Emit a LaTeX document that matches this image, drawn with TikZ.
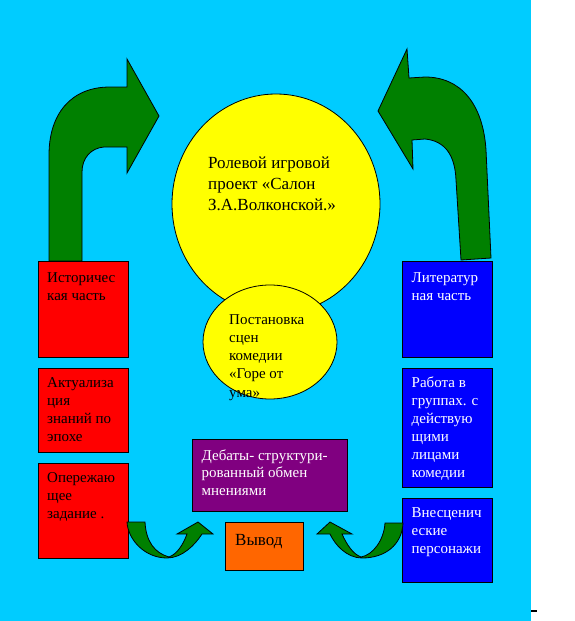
\documentclass[tikz,border=0pt]{standalone}
\usepackage{fontspec}
\setmainfont{Liberation Serif}
\definecolor{bgcyan}{RGB}{0,204,255}
\definecolor{boxred}{RGB}{255,0,0}
\definecolor{boxblue}{RGB}{0,0,255}
\definecolor{boxpurple}{RGB}{128,0,128}
\definecolor{boxorange}{RGB}{255,102,0}
\definecolor{circyellow}{RGB}{255,255,0}
\definecolor{arrowgreen}{RGB}{0,128,0}
\tikzset{
  outline/.style={draw=black, line width=0.8pt},
  redbox/.style={outline, fill=boxred},
  bluebox/.style={outline, fill=boxblue},
  greenarrow/.style={outline, fill=arrowgreen, line join=miter},
  txt/.style={inner sep=0pt, anchor=base west, align=left, font=\fontspec{Liberation Serif}\fontsize{15}{18}\selectfont},
  bigtxt/.style={inner sep=0pt, anchor=base west, align=left, font=\fontspec{Liberation Serif}\fontsize{17}{21}\selectfont},
}
\begin{document}
\begin{tikzpicture}[x=1pt,y=-1pt]
\useasboundingbox (0,0) rectangle (575,621);
% background
\fill[bgcyan] (0,0) rectangle (531,621);
\fill[black] (531,610) rectangle (537,612);

% big bent arrows
\draw[greenarrow] (49,261) -- (49,155) .. controls (49,115) and (70,87) .. (110,87)
  -- (127,87) -- (127,59) -- (159,116) -- (127,173) -- (127,147) -- (104,147)
  .. controls (91,148) and (82,158) .. (82,172) -- (82,261) -- cycle;
\draw[greenarrow] (491,258) -- (486,150) .. controls (483,103) and (460,77) .. (425,77)
  -- (409,78) -- (407,49) -- (378,111) -- (413,169) -- (412,140) -- (425,139)
  .. controls (445,141) and (455,155) .. (456,180) -- (461,260) -- cycle;

% circles
\draw[outline, fill=circyellow] (276,204) ellipse [x radius=104, y radius=110];
\draw[outline, fill=circyellow] (270,342) ellipse [x radius=67, y radius=57];

% boxes
\node[redbox, minimum width=90pt, minimum height=96pt, inner sep=0pt, anchor=north west] (r1) at (37.5,261) {};
\node[redbox, minimum width=90pt, minimum height=84pt, inner sep=0pt, anchor=north west] (r2) at (37.5,368) {};
\node[redbox, minimum width=90pt, minimum height=95pt, inner sep=0pt, anchor=north west] (r3) at (37.5,463) {};
\node[bluebox, minimum width=90pt, minimum height=96pt, inner sep=0pt, anchor=north west] (b1) at (402,261) {};
\node[bluebox, minimum width=90pt, minimum height=119pt, inner sep=0pt, anchor=north west] (b2) at (402,368) {};
\node[bluebox, minimum width=90pt, minimum height=84pt, inner sep=0pt, anchor=north west] (b3) at (402,498) {};
\node[outline, fill=boxpurple, minimum width=155pt, minimum height=72pt, inner sep=0pt, anchor=north west] (deb) at (192,439) {};
\node[outline, fill=boxorange, minimum width=78pt, minimum height=48pt, inner sep=0pt, anchor=north west] (vyv) at (225,522) {};

% small curved arrows
\draw[greenarrow] (127,522) .. controls (128,540) and (145,558) .. (167,558)
  .. controls (182,558) and (195,545) .. (202,534) -- (213,534) -- (198,522) -- (177,534) -- (187,534)
  .. controls (183,545) and (177,554) .. (169,557)
  .. controls (155,553) and (146,542) .. (145,522) -- cycle;
\draw[greenarrow] (403,523) .. controls (402,545) and (385,558) .. (362,558)
  .. controls (347,558) and (335,545) .. (330,534) -- (317,534) -- (330,522) -- (352,534) -- (342,534)
  .. controls (347,545) and (353,554) .. (361,557)
  .. controls (373,555) and (384,540) .. (385,523) -- cycle;

% texts (base anchor = baseline of the last line)
\node[bigtxt] (tmain) at (208,210) {Ролевой игровой\\проект «Салон\\З.А.Волконской.»};
\node[txt, font=\fontspec{Liberation Serif}\fontsize{15}{18.2}\selectfont] (tstage) at (229,397) {Постановка\\сцен\\комедии\\«Горе от\\ума»};
\node[txt] (thist) at (47,300) {Историчес\\кая часть};
\node[txt] (tact) at (47,441.5) {Актуализа\\ция\\знаний по\\эпохе};
\node[txt] (tadv) at (47,518.5) {Опережаю\\щее\\задание .};
\node[txt, text=white] (tlit) at (411.5,300) {Литератур\\ная часть};
\node[txt, text=white] (twork) at (411.5,477.5) {Работа в\\группах. с\\действую\\щими\\лицами\\комедии};
\node[txt, text=white] (tout) at (411.5,553.5) {Внесценич\\еские\\персонажи};
\node[txt, text=white, font=\fontspec{Liberation Serif}\fontsize{15}{17.5}\selectfont] (tdeb) at (201.5,495) {Дебаты- структури-\\рованный обмен\\мнениями};
\node[bigtxt] (tvyv) at (235,545) {Вывод};
\end{tikzpicture}
\end{document}
